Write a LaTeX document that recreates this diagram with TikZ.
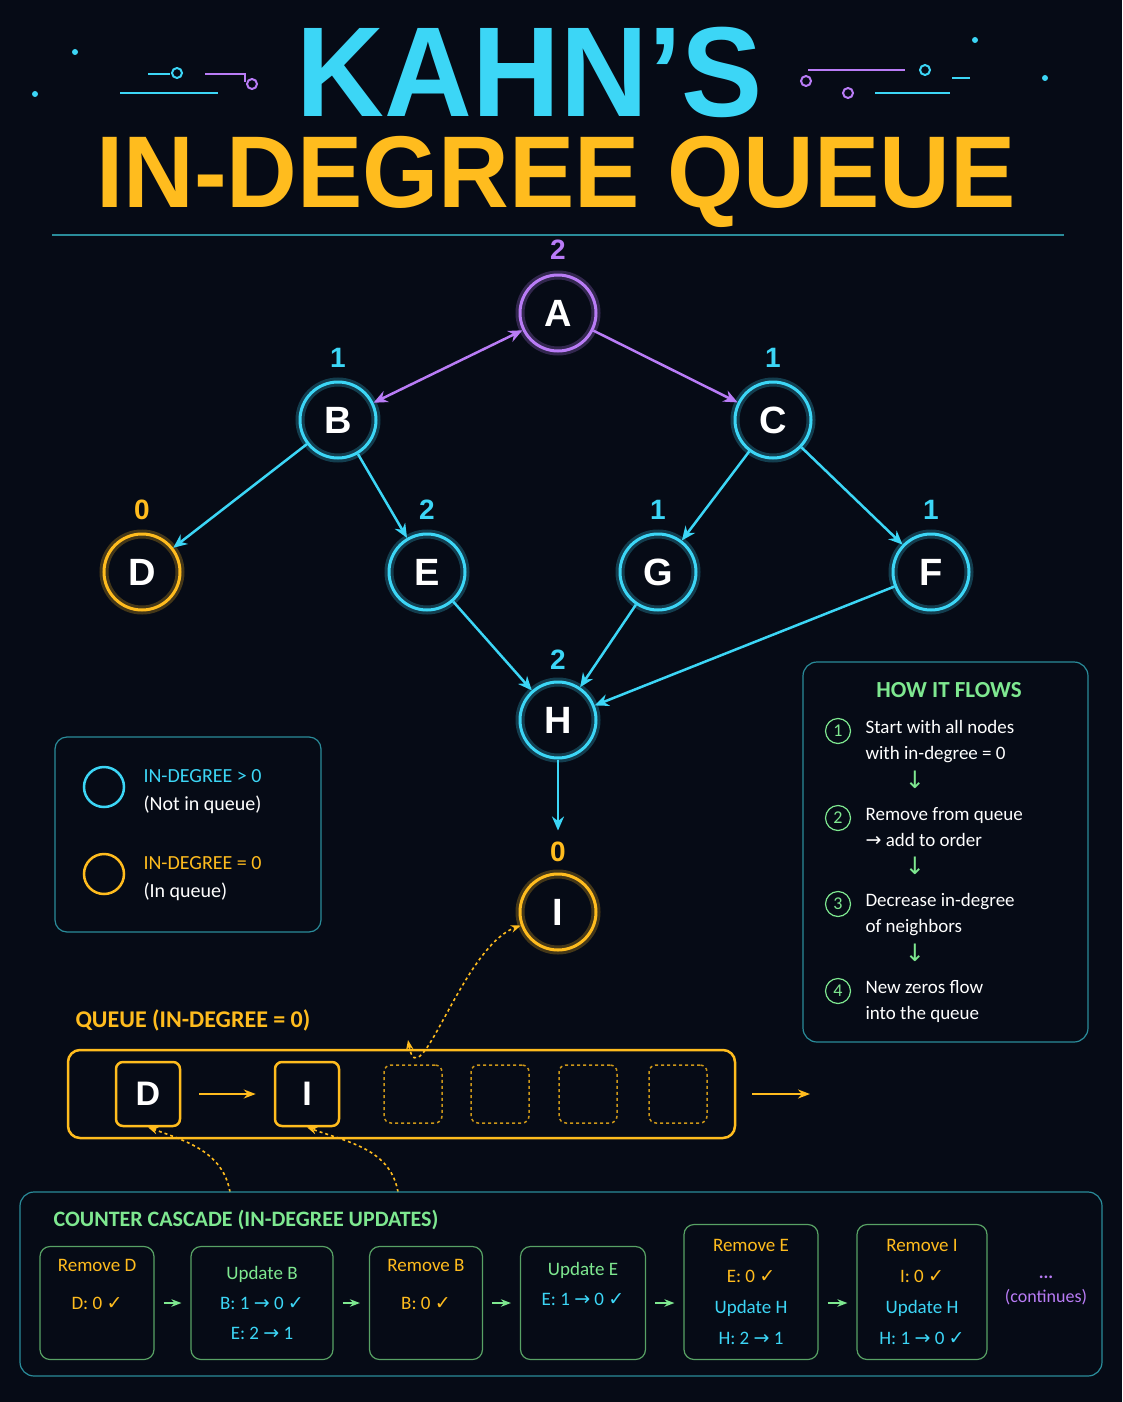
\documentclass[tikz,border=0pt]{standalone}
\usepackage{fontspec}
\setmainfont{Carlito}
\newfontfamily\titlefont{Liberation Sans}
\newfontfamily\symfont{DejaVu Sans}
\usetikzlibrary{arrows.meta}
\definecolor{bgdark}{HTML}{060B16}
\definecolor{cyanc}{HTML}{3CD6F6}
\definecolor{orangec}{HTML}{FFBC1E}
\definecolor{purplec}{HTML}{B97CF6}
\definecolor{greenc}{HTML}{7EE890}
\definecolor{tealc}{HTML}{2A8C9A}
\newcommand{\ck}{{\symfont\char"2713}}
\newcommand{\ra}{{\symfont\char"2192}}
\tikzset{
  vert/.style={circle,draw=#1,line width=3pt,minimum size=76pt,inner sep=0pt,
    text=white,font=\titlefont\bfseries\fontsize{38}{38}\selectfont,
    preaction={draw=#1,line width=9pt,draw opacity=0.25}},
  deg/.style={text=#1,font=\titlefont\bfseries\fontsize{28}{28}\selectfont},
  edge/.style={#1,line width=2.5pt,-{Stealth[length=14pt,width=12pt]}},
  slot/.style={draw=orangec,rounded corners=7pt,line width=2.5pt,minimum size=64pt,
    text=white,font=\titlefont\bfseries\fontsize{34}{34}\selectfont},
  eslot/.style={draw=orangec!80!black,dashed,rounded corners=7pt,line width=1.5pt,minimum width=58pt,minimum height=58pt},
  casestep/.style={draw=greenc!70!black,rounded corners=10pt,line width=1.2pt,align=center,
    font=\fontsize{19}{30}\selectfont},
  num/.style={circle,draw=greenc,line width=1.2pt,minimum size=25pt,inner sep=0pt,
    text=greenc,font=\fontsize{18}{18}\selectfont},
  hop/.style={orangec,line width=1.6pt,dashed,-{Stealth[length=10pt]}},
}
\begin{document}
\begin{tikzpicture}[x=1pt,y=-1pt]
\fill[bgdark] (0,0) rectangle (1122,1402);
\useasboundingbox (0,0) rectangle (1122,1402);

% title
\node[text=cyanc,font=\titlefont\bfseries\fontsize{128}{128}\selectfont,xscale=0.95] (title1) at (530,72) {KAHN’S};
\node[text=orangec,font=\titlefont\bfseries\fontsize{102}{102}\selectfont,xscale=0.96] (title2) at (556,182) {IN-DEGREE QUEUE};
\draw[tealc,line width=1.5pt] (52,235) -- (1064,235);
% circuit decorations
\draw[cyanc,line width=2pt] (120,93) -- (218,93);
\draw[cyanc,line width=2pt] (148,74) -- (170,74);
\draw[cyanc,line width=2pt] (177,73) circle (5);
\draw[purplec,line width=2pt] (205,74) -- (245,74) -- (245,82);
\draw[purplec,line width=2pt] (252,84) circle (5);
\draw[purplec,line width=2pt] (808,70) -- (905,70);
\draw[purplec,line width=2pt] (806,81) circle (5);
\draw[purplec,line width=2pt] (848,93) circle (5);
\draw[cyanc,line width=2pt] (875,93) -- (950,93);
\draw[cyanc,line width=2pt] (925,70) circle (5);
\draw[cyanc,line width=2pt] (952,78) -- (970,78);
\fill[cyanc] (35,94) circle (3) (75,52) circle (3) (975,40) circle (3) (1045,78) circle (3);

% graph
\node[vert=purplec] (A) at (558,313) {A};
\node[vert=cyanc] (B) at (338,420) {B};
\node[vert=cyanc] (C) at (773,420) {C};
\node[vert=orangec] (D) at (142,572) {D};
\node[vert=cyanc] (E) at (427,572) {E};
\node[vert=cyanc] (G) at (658,572) {G};
\node[vert=cyanc] (F) at (931,572) {F};
\node[vert=cyanc] (H) at (558,720) {H};
\node[vert=orangec] (I) at (558,912) {I};
\node[deg=purplec] at (558,250) {2};
\node[deg=cyanc] at (338,358) {1};
\node[deg=cyanc] at (773,358) {1};
\node[deg=orangec] at (142,510) {0};
\node[deg=cyanc] at (427,510) {2};
\node[deg=cyanc] at (658,510) {1};
\node[deg=cyanc] at (931,510) {1};
\node[deg=cyanc] at (558,660) {2};
\node[deg=orangec] at (558,852) {0};

\draw[edge=purplec,{Stealth[length=14pt,width=12pt]}-{Stealth[length=14pt,width=12pt]}] (A) -- (B);
\draw[edge=purplec] (A) -- (C);
\draw[edge=cyanc] (B) -- (D);
\draw[edge=cyanc] (B) -- (E);
\draw[edge=cyanc] (C) -- (G);
\draw[edge=cyanc] (C) -- (F);
\draw[edge=cyanc] (E) -- (H);
\draw[edge=cyanc] (G) -- (H);
\draw[edge=cyanc] (F) -- (H);
\draw[edge=cyanc,shorten >=42pt] (H) -- (I);

% legend
\draw[tealc,rounded corners=12pt,line width=1.2pt] (55,737) rectangle (321,932);
\draw[cyanc,line width=2.5pt] (104,787) circle (20);
\draw[orangec,line width=2.5pt] (104,874) circle (20);
\node[anchor=west,align=left,font=\fontsize{20}{28}\selectfont,text=white] (leg1) at (140,792) {\textcolor{cyanc}{IN-DEGREE > 0}\\(Not in queue)};
\node[anchor=west,align=left,font=\fontsize{20}{28}\selectfont,text=white] (leg2) at (140,879) {\textcolor{orangec}{IN-DEGREE = 0}\\(In queue)};

% how it flows
\draw[tealc,rounded corners=14pt,line width=1.2pt] (803,662) rectangle (1088,1042);
\node[text=greenc,font=\bfseries\fontsize{23}{23}\selectfont] (flowt) at (949,690) {HOW IT FLOWS};
\foreach \n/\y/\txt in {1/731/{Start with all nodes\\with in-degree = 0},
                        2/818/{Remove from queue\\\ra{} add to order},
                        3/904/{Decrease in-degree\\of neighbors},
                        4/991/{New zeros flow\\into the queue}}{
  \node[num] (n\n) at (838,\y) {\n};
  \node[anchor=north west,align=left,text=white,font=\fontsize{19}{26}\selectfont] at (862,\y-14) {\txt};
}
\foreach \y in {780,866,953}{
  \node[text=greenc,font=\fontsize{24}{24}\selectfont] at (915,\y) {\symfont\char"2193};
}

% queue
\node[anchor=west,text=orangec,font=\bfseries\fontsize{24}{24}\selectfont] (qlabel) at (72,1020) {QUEUE (IN-DEGREE = 0)};
\draw[orangec,rounded corners=12pt,line width=2.5pt] (68,1050) rectangle (735,1138);
\node[slot] (qD) at (148,1094) {D};
\node[slot] (qI) at (307,1094) {I};
\node[eslot] (s1) at (413,1094) {};
\node[eslot] (s2) at (500,1094) {};
\node[eslot] (s3) at (588,1094) {};
\node[eslot] (s4) at (678,1094) {};
\draw[orangec,line width=2pt,-{Stealth[length=12pt]},shorten <=18pt,shorten >=18pt] (qD) -- (qI);
\coordinate (qout) at (810,1094);
\draw[orangec,line width=2pt,-{Stealth[length=12pt]}] (752,1094) -- (qout);
\coordinate (qin) at (408,1040);
\draw[hop,{Stealth[length=10pt]}-{Stealth[length=10pt]}] (qin) to[out=-80,in=200] (I);
\coordinate (fromD) at (230,1192);
\coordinate (fromI) at (398,1192);
\draw[hop] (fromD) to[out=100,in=-20] (qD.south);
\draw[hop] (fromI) to[out=100,in=-20] (qI.south);

% counter cascade
\draw[tealc,rounded corners=14pt,line width=1.2pt] (20,1192) rectangle (1102,1376);
\node[anchor=west,text=greenc,font=\bfseries\fontsize{22}{22}\selectfont] (ctitle) at (50,1220) {COUNTER CASCADE (IN-DEGREE UPDATES)};
\node[casestep,minimum width=114pt,minimum height=113pt] (c1) at (97,1303)
  {\textcolor{orangec}{Remove D}\\[8pt]\textcolor{orangec}{D: 0 \ck}\\[8pt]};
\node[casestep,minimum width=142pt,minimum height=113pt] (c2) at (262,1303)
  {\textcolor{greenc}{Update B}\\\textcolor{cyanc}{B: 1 \ra{} 0 \ck}\\\textcolor{cyanc}{E: 2 \ra{} 1}};
\node[casestep,minimum width=113pt,minimum height=113pt] (c3) at (426,1303)
  {\textcolor{orangec}{Remove B}\\[8pt]\textcolor{orangec}{B: 0 \ck}\\[8pt]};
\node[casestep,minimum width=125pt,minimum height=113pt] (c4) at (583,1303)
  {\textcolor{greenc}{Update E}\\\textcolor{cyanc}{E: 1 \ra{} 0 \ck}\\[8pt]};
\node[casestep,minimum width=134pt,minimum height=135pt,font=\fontsize{19}{31}\selectfont] (c5) at (751,1292)
  {\textcolor{orangec}{Remove E}\\\textcolor{orangec}{E: 0 \ck}\\\textcolor{cyanc}{Update H}\\\textcolor{cyanc}{H: 2 \ra{} 1}};
\node[casestep,minimum width=130pt,minimum height=135pt,font=\fontsize{19}{31}\selectfont] (c6) at (922,1292)
  {\textcolor{orangec}{Remove I}\\\textcolor{orangec}{I: 0 \ck}\\\textcolor{cyanc}{Update H}\\\textcolor{cyanc}{H: 1 \ra{} 0 \ck}};
\node[text=purplec,align=center,font=\fontsize{18}{24}\selectfont] (cmore) at (1046,1290) {\textbf{...}\\(continues)};
\foreach \a/\b in {c1/c2,c2/c3,c3/c4,c4/c5,c5/c6}{
  \draw[greenc,line width=2.5pt,-{Stealth[length=10pt]},shorten <=9pt,shorten >=9pt] (\a.east|-c1.east) -- (\b.west|-c1.east);
}
\end{tikzpicture}
\end{document}
